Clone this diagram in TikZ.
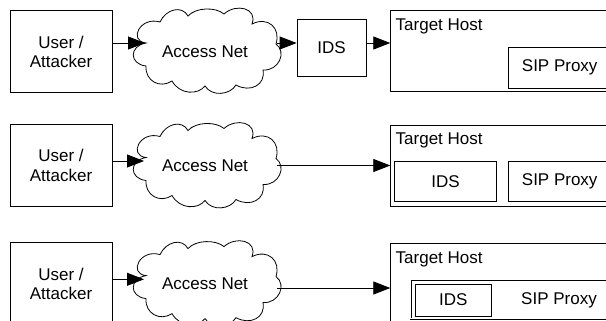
\documentclass[tikz,border=0pt]{standalone}
\usepackage{fontspec}
\setmainfont{Liberation Sans}
\usetikzlibrary{arrows.meta}
\begin{document}
\begin{tikzpicture}[x=1pt,y=-1pt,
  every node/.style={font=\fontsize{17}{19.5}\selectfont, inner sep=0pt},
  box/.style={draw, line width=0.8pt},
  plain/.style={line width=0.8pt},
  flow/.style={line width=0.8pt, -{Triangle[length=17pt,width=13pt]}},
  guard/.style={draw, line width=0.6pt, double=white, double distance=0.9pt}]
\useasboundingbox (0,0) rectangle (606,321);
\fill[white] (0,0) rectangle (606,321);
\clip (0,0) rectangle (606,321);

% ---- access-net clouds (same outline, one per row) ----
\foreach \dy in {0,114.5,232.6} {
  \draw[plain, shift={(0,\dy)}]
    (146,43) .. controls (128,41) and (140,16) .. (160,22)
    .. controls (166,9) and (182,5) .. (188,16)
    .. controls (196,7) and (216,7) .. (224,14)
    .. controls (236,3) and (258,8) .. (252,24)
    .. controls (268,16) and (281,28) .. (276,44)
    .. controls (287,52) and (279,71) .. (263,70)
    .. controls (266,85) and (250,93) .. (236,85)
    .. controls (230,95) and (212,97) .. (205,86)
    .. controls (198,95) and (180,95) .. (172,81)
    .. controls (160,89) and (145,81) .. (146,66)
    .. controls (129,64) and (129,46) .. (146,43) -- cycle;
}

% ---- row 1: IDS in front of the host ----
\node[box, minimum width=102pt, minimum height=82pt, align=center] (user1) at (61,51.8) {User /\\Attacker};
\node[minimum width=140pt, minimum height=80pt] (net1) at (205,51.5) {Access Net};
\node[box, minimum width=69pt, minimum height=57pt] (ids1) at (331.5,47.5) {IDS};
\node[box, minimum width=229.3pt, minimum height=81pt] (host1) at (505.35,51.2) {};
\node[anchor=base west] (host1label) at (395.5,31) {Target Host};
\node[box, minimum width=102pt, minimum height=41pt] (sip1) at (559.7,67.8) {SIP Proxy};
\coordinate (net1in) at (145,43);
\coordinate (net1out) at (277,43);
\draw[flow] (user1.east |- net1in) -- (net1in);
\draw[flow] (net1out) -- (net1out -| ids1.west);
\draw[flow] (ids1.east |- net1out) -- (host1.west |- net1out);

% ---- row 2: IDS beside the proxy on the host ----
\node[box, minimum width=102pt, minimum height=82pt, align=center] (user2) at (61,165.5) {User /\\Attacker};
\node[minimum width=140pt, minimum height=80pt] (net2) at (205,166) {Access Net};
\node[box, minimum width=229.3pt, minimum height=81.7pt] (host2) at (505.35,165.85) {};
\node[anchor=base west] (host2label) at (395.5,145) {Target Host};
\node[box, minimum width=102.4pt, minimum height=40pt] (ids2) at (445.5,181.7) {IDS};
\node[box, minimum width=102pt, minimum height=40pt] (sip2) at (559.7,181.7) {SIP Proxy};
\coordinate (net2in) at (144,161);
\coordinate (net2out) at (277,165.5);
\draw[flow] (user2.east |- net2in) -- (net2in);
\draw[flow] (net2out) -- (host2.west |- net2out);

% ---- row 3: IDS embedded in the proxy ----
\node[box, minimum width=102pt, minimum height=82pt, align=center] (user3) at (61,283.7) {User /\\Attacker};
\node[minimum width=140pt, minimum height=80pt] (net3) at (205,284) {Access Net};
\node[box, minimum width=229.3pt, minimum height=86.7pt] (host3) at (505.35,286.65) {};
\node[anchor=base west] (host3label) at (395.5,263.3) {Target Host};
\node[guard, minimum width=209.2pt, minimum height=39pt] (proxy3) at (515.4,299.4) {};
\node[box, minimum width=76.7pt, minimum height=32pt] (ids3) at (453.35,300) {IDS};
\node (sip3) at (559,300) {SIP Proxy};
\coordinate (net3in) at (144,279.3);
\coordinate (net3out) at (277,288);
\draw[flow] (user3.east |- net3in) -- (net3in);
\draw[flow] (net3out) -- (host3.west |- net3out);
\end{tikzpicture}
\end{document}
